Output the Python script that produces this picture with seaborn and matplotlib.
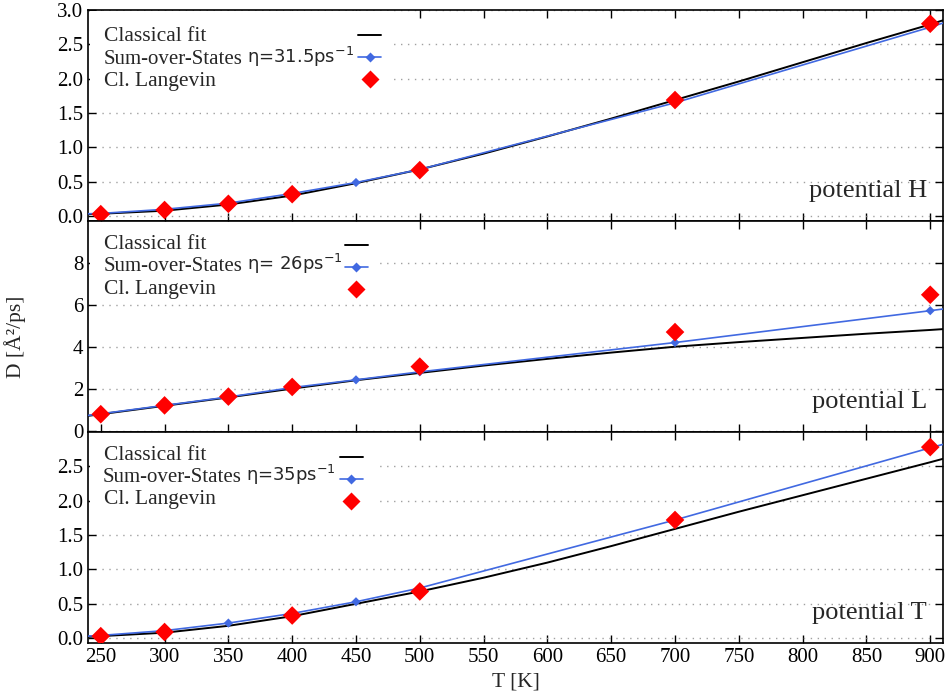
"""
Diffusion coefficient vs temperature for the three potentials (H, L, T).
"""
import matplotlib
matplotlib.use("Agg")
import matplotlib.pyplot as plt
import matplotlib.patches as mpatches
from matplotlib.lines import Line2D
import seaborn as sns

# ── Data ──────────────────────────────────────────────────────────────────────
T_fit = [240, 250, 300, 350, 400, 450, 500, 550, 600, 650, 700, 750, 800, 850, 900, 910]
T_sos_line = [240, 250, 300, 350, 400, 450, 500, 700, 900, 910]
T_sos = [250, 300, 350, 400, 450, 500, 700, 900]

# potential H
H_fit = [0.03, 0.035, 0.08, 0.17, 0.30, 0.48, 0.68, 0.91, 1.16, 1.42, 1.69, 1.96, 2.24, 2.52, 2.79, 2.85]
H_sos_line = [0.035, 0.04, 0.10, 0.19, 0.33, 0.49, 0.68, 1.65, 2.75, 2.81]
H_sos = [0.04, 0.10, 0.19, 0.33, 0.49, 0.68, 1.65, 2.75]
H_lang_T = [250, 300, 350, 400, 500, 700, 900]
H_lang = [0.03, 0.09, 0.18, 0.32, 0.67, 1.69, 2.80]

# potential L
L_fit = [0.70, 0.78, 1.18, 1.58, 2.00, 2.40, 2.75, 3.10, 3.42, 3.72, 4.00, 4.22, 4.42, 4.62, 4.80, 4.84]
L_sos_line = [0.72, 0.80, 1.20, 1.60, 2.05, 2.42, 2.80, 4.20, 5.72, 5.80]
L_sos = [0.80, 1.20, 1.60, 2.05, 2.42, 2.80, 4.20, 5.72]
L_lang_T = [250, 300, 350, 400, 500, 700, 900]
L_lang = [0.78, 1.20, 1.62, 2.08, 3.05, 4.70, 6.48]

# potential T
Tp_fit = [0.02, 0.03, 0.08, 0.18, 0.32, 0.50, 0.68, 0.88, 1.10, 1.34, 1.59, 1.84, 2.08, 2.32, 2.56, 2.61]
Tp_sos_line = [0.03, 0.04, 0.11, 0.22, 0.36, 0.53, 0.73, 1.72, 2.77, 2.82]
Tp_sos = [0.04, 0.11, 0.22, 0.36, 0.53, 0.73, 1.72, 2.77]
Tp_lang_T = [250, 300, 400, 500, 700, 900]
Tp_lang = [0.03, 0.09, 0.33, 0.68, 1.72, 2.78]

eta_labels = ["η=31.5ps$^{\\mathregular{-1}}$", "η= 26ps$^{\\mathregular{-1}}$",
              "η=35ps$^{\\mathregular{-1}}$"]
panel_names = ["potential H", "potential L", "potential T"]
y_ticks = [
    [0.0, 0.5, 1.0, 1.5, 2.0, 2.5, 3.0],
    [0, 2, 4, 6, 8],
    [0.0, 0.5, 1.0, 1.5, 2.0, 2.5],
]
y_limits = [(-0.07, 3.0), (-0.07, 10.0), (-0.07, 3.0)]
x_ticks = list(range(250, 901, 50))

# ── Style ─────────────────────────────────────────────────────────────────────
sns.set_style("ticks")
plt.rcParams.update({
    "font.family": ["Liberation Serif", "DejaVu Sans"],
    "mathtext.fontset": "dejavusans",
    "font.size": 15,
    "axes.linewidth": 1.2,
    "xtick.direction": "in",
    "ytick.direction": "in",
    "xtick.major.size": 6,
    "ytick.major.size": 6,
    "xtick.major.width": 1.0,
    "ytick.major.width": 1.0,
    "xtick.labelsize": 15,
    "ytick.labelsize": 15,
    "xtick.color": "black",
    "ytick.color": "black",
    "axes.edgecolor": "black",
})

BLUE = "#4169E1"
RED = "#FF0000"

fig, axes = plt.subplots(3, 1, figsize=(9.52, 6.95), dpi=100, sharex=True)
fig.subplots_adjust(left=88 / 952, right=943 / 952, top=1 - 10 / 695,
                    bottom=1 - 643 / 695, hspace=0)

panels = [
    (H_fit, H_sos_line, H_sos, H_lang_T, H_lang),
    (L_fit, L_sos_line, L_sos, L_lang_T, L_lang),
    (Tp_fit, Tp_sos_line, Tp_sos, Tp_lang_T, Tp_lang),
]

# key geometry per panel (axes fraction)
leg_rows = [(0.875, 0.77, 0.662), (0.89, 0.79, 0.676), (0.888, 0.79, 0.682)]
leg_anchor = [(0.316, 0.914), (0.3006, 0.919), (0.2947, 0.916)]
key_width = [0.353, 0.338, 0.336]

for i, (ax, (fit, sos_line, sos, lang_T, lang)) in enumerate(zip(axes, panels)):
    sns.lineplot(x=T_fit, y=fit, color="black", linewidth=1.4, ax=ax, zorder=3)
    sns.lineplot(x=T_sos_line, y=sos_line, color=BLUE, linewidth=1.2, ax=ax, zorder=3)
    sns.scatterplot(x=T_sos, y=sos, marker="D", s=22, color=BLUE,
                    edgecolor="none", ax=ax, zorder=4)
    sns.scatterplot(x=lang_T, y=lang, marker="D", s=90, color=RED,
                    edgecolor="none", ax=ax, zorder=5)

    ax.set_xlim(240, 910)
    ax.set_ylim(*y_limits[i])
    ax.set_yticks(y_ticks[i])
    if i != 1:
        ax.set_yticklabels([f"{v:.1f}" for v in y_ticks[i]])
    ax.set_xticks(x_ticks)
    ax.tick_params(top=True, right=True, which="major")
    ax.yaxis.grid(True, color="#a0a0a0", linestyle=(0, (1, 4)), linewidth=1.0)
    ax.set_axisbelow(True)
    ax.set_ylabel("")
    ax.set_xlabel("")

    # white key area (hides grid behind the key, like gnuplot's opaque key)
    y_bottom = leg_rows[i][2] - 0.06
    ax.add_patch(mpatches.Rectangle((0.002, y_bottom), key_width[i], 0.995 - y_bottom,
                                    transform=ax.transAxes, facecolor="white",
                                    edgecolor="none", zorder=1))

    # key labels
    r1, r2, r3 = leg_rows[i]
    ax.text(0.0187, r1, "Classical fit", transform=ax.transAxes, va="center",
            ha="left", fontsize=15.5, zorder=6)
    t_sos = ax.text(0.0175 if i == 2 else 0.0187, r2, "Sum-over-States",
                    transform=ax.transAxes, va="baseline", ha="left", fontsize=15, zorder=6)
    t_sos.set_y(r2 - 0.025)
    ax.annotate(eta_labels[i], xy=(1, 0), xycoords=t_sos, xytext=(3, 0),
                textcoords="offset points", va="bottom", ha="left",
                fontsize=13, family="DejaVu Sans", zorder=6)
    ax.text(0.0187, r3, "Cl. Langevin", transform=ax.transAxes, va="center",
            ha="left", fontsize=15.5, zorder=6)

    # key samples
    handles = [
        Line2D([], [], color="black", linewidth=1.4),
        Line2D([], [], color=BLUE, linewidth=1.2, marker="D", markersize=4.7,
               markeredgecolor="none"),
        Line2D([], [], color=RED, linestyle="none", marker="D", markersize=9.5,
               markeredgecolor="none"),
    ]
    leg = ax.legend(handles, ["", "", ""], loc="upper left",
                    bbox_to_anchor=leg_anchor[i],
                    frameon=False, handlelength=1.1, handletextpad=0.0,
                    labelspacing=0.116, borderpad=0.0, borderaxespad=0.0, fontsize=15)
    leg.set_zorder(7)

    ax.text(0.981, 0.14, panel_names[i], transform=ax.transAxes, ha="right",
            va="center", fontsize=19, zorder=6)

axes[2].set_xlabel("T [K]", fontsize=15.5)
fig.text(0.016, 0.515, "D [Å²/ps]", rotation=90, va="center", ha="center", fontsize=15.5)

fig.savefig("out.png", dpi=100)
